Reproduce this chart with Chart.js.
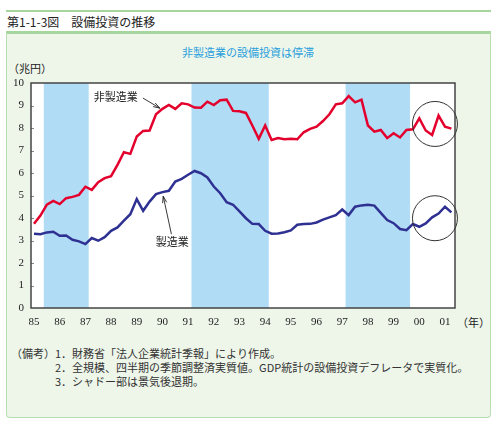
<!DOCTYPE html>
<html lang="ja">
<head>
<meta charset="utf-8">
<script src="https://cdn.jsdelivr.net/npm/chart.js@4.4.1/dist/chart.umd.min.js"></script>
<style>
  body { margin: 0; width: 496px; height: 428px; background: #fff; position: relative; overflow: hidden; font-family: "Noto Sans CJK JP", sans-serif; color: #222; }
  .topline { position: absolute; left: 6px; top: 10px; width: 485px; height: 2px; background: #a6d69e; }
  .title { position: absolute; left: 7px; top: 14px; font-size: 12px; line-height: 16px; color: #222; }
  .panel { position: absolute; left: 6px; top: 31px; width: 483px; height: 383px; background: #eef6ea; border: 1px solid #b8ddb1; border-top: 3px solid #a6d69e; border-radius: 0 0 4px 4px; }
  .subtitle { position: absolute; left: 0; width: 496px; top: 44px; text-align: center; font-size: 11px; line-height: 16px; color: #2a9fdc; }
  .unit { position: absolute; left: 8px; top: 60px; font-size: 11px; line-height: 16px; }
  .year { position: absolute; left: 457px; top: 314px; font-size: 11px; line-height: 16px; }
  .note { position: absolute; font-size: 11px; line-height: 14px; color: #333; white-space: nowrap; }
  #chart { position: absolute; left: 0; top: 0; }
</style>
</head>
<body>
<div class="topline"></div>
<div class="title">第1-1-3図　設備投資の推移</div>
<div class="panel"></div>
<div class="subtitle">非製造業の設備投資は停滞</div>
<div class="unit">（兆円）</div>
<div class="year">（年）</div>
<div class="note" style="left:11px; top:346px;">（備考）</div>
<div class="note" style="left:55px; top:346px;">1．財務省「法人企業統計季報」により作成。</div>
<div class="note" style="left:55px; top:360px;">2．全規模、四半期の季節調整済実質値。GDP統計の設備投資デフレータで実質化。</div>
<div class="note" style="left:55px; top:374px;">3．シャドー部は景気後退期。</div>
<canvas id="chart" width="496" height="428"></canvas>
<script>
// quarterly series, 1985 Q1 .. 2001 Q2 (兆円)
const startYear = 1985;
const nonManufacturing = [
    3.74, 4.11, 4.59, 4.76, 4.62, 4.88, 4.94, 5.03, 5.39, 5.25, 5.59, 5.77,
    5.86, 6.36, 6.92, 6.85, 7.62, 7.87, 7.89, 8.61, 8.85, 9.02, 8.85, 9.10,
    9.05, 8.91, 8.90, 9.17, 9.02, 9.23, 9.26, 8.76, 8.74, 8.67, 8.11, 7.52,
    8.11, 7.47, 7.55, 7.50, 7.52, 7.50, 7.81, 7.96, 8.06, 8.31, 8.61, 9.05,
    9.10, 9.42, 9.14, 9.26, 8.11, 7.84, 7.91, 7.55, 7.77, 7.58, 7.91, 7.94,
    8.43, 7.89, 7.69, 8.55, 8.06, 7.97,
];
const manufacturing = [
    3.30, 3.28, 3.36, 3.39, 3.21, 3.22, 3.03, 2.96, 2.84, 3.11, 2.99, 3.15,
    3.43, 3.58, 3.88, 4.17, 4.84, 4.32, 4.73, 5.06, 5.15, 5.21, 5.62, 5.74,
    5.92, 6.09, 5.99, 5.80, 5.40, 5.10, 4.70, 4.59, 4.29, 3.99, 3.74, 3.73,
    3.43, 3.30, 3.31, 3.37, 3.45, 3.70, 3.73, 3.74, 3.80, 3.93, 4.03, 4.13,
    4.38, 4.13, 4.50, 4.56, 4.59, 4.55, 4.23, 3.91, 3.77, 3.51, 3.46, 3.73,
    3.61, 3.76, 4.03, 4.20, 4.50, 4.25,
];
const recessions = [[1985.38, 1987.13], [1991.13, 1994.14], [1997.13, 1999.64]];
const yTicks = [0, 1, 2, 3, 4, 5, 6, 7, 8, 9, 10];

function toPoints(values) {
    return values.map((v, i) => ({ x: startYear + i / 4, y: v }));
}

function drawArrow(ctx, x0, y0, x1, y1) {
    const ang = Math.atan2(y1 - y0, x1 - x0);
    const len = 7;
    ctx.beginPath();
    ctx.moveTo(x0, y0);
    ctx.lineTo(x1, y1);
    ctx.moveTo(x1 - len * Math.cos(ang - 0.3), y1 - len * Math.sin(ang - 0.3));
    ctx.lineTo(x1, y1);
    ctx.lineTo(x1 - len * Math.cos(ang + 0.3), y1 - len * Math.sin(ang + 0.3));
    ctx.stroke();
}

const decorPlugin = {
    id: 'decor',
    beforeDatasetsDraw(chart) {
        const { ctx, chartArea: a, scales: { x } } = chart;
        ctx.save();
        ctx.fillStyle = '#fff';
        ctx.fillRect(a.left, a.top, a.width, a.height);
        ctx.fillStyle = '#b1dcf6';
        recessions.forEach(([s, e]) => {
            const x0 = x.getPixelForValue(s);
            const x1 = x.getPixelForValue(e);
            ctx.fillRect(x0, a.top, x1 - x0, a.height);
        });
        ctx.restore();
    },
    afterDatasetsDraw(chart) {
        const { ctx, chartArea: a, scales: { x, y } } = chart;
        ctx.save();
        // inward tick marks on the y axis
        ctx.strokeStyle = '#888';
        ctx.lineWidth = 1;
        yTicks.slice(1, -1).forEach((t) => {
            const py = Math.round(y.getPixelForValue(t)) + 0.5;
            ctx.beginPath();
            ctx.moveTo(a.left, py);
            ctx.lineTo(a.left + 3, py);
            ctx.stroke();
        });
        // frame
        ctx.strokeStyle = '#444';
        ctx.lineWidth = 1.5;
        ctx.strokeRect(a.left, a.top, a.width, a.height);

        // series labels with arrows
        ctx.fillStyle = '#222';
        ctx.font = '11px "Noto Sans CJK JP"';
        ctx.textAlign = 'center';
        ctx.textBaseline = 'middle';
        ctx.fillText('非製造業', x.getPixelForValue(1988.18), y.getPixelForValue(9.38));
        ctx.fillText('製造業', x.getPixelForValue(1990.38), y.getPixelForValue(2.94));
        ctx.strokeStyle = '#222';
        ctx.lineWidth = 0.9;
        drawArrow(ctx, x.getPixelForValue(1989.24), y.getPixelForValue(9.33),
            x.getPixelForValue(1989.9), y.getPixelForValue(8.88));
        drawArrow(ctx, x.getPixelForValue(1990.35), y.getPixelForValue(3.28),
            x.getPixelForValue(1990.03), y.getPixelForValue(4.97));

        // circles around the latest quarters
        ctx.strokeStyle = '#333';
        ctx.lineWidth = 1;
        [8.18, 3.99].forEach((v) => {
            ctx.beginPath();
            ctx.arc(x.getPixelForValue(2000.61), y.getPixelForValue(v), 22.5, 0, Math.PI * 2);
            ctx.stroke();
        });
        ctx.restore();
    },
};

const tickFont = { family: '"Liberation Serif", "DejaVu Serif", serif', size: 11 };

new Chart(document.getElementById('chart').getContext('2d'), {
    type: 'line',
    data: {
        datasets: [
            {
                label: '非製造業',
                data: toPoints(nonManufacturing),
                borderColor: '#e4002d',
                borderWidth: 2.5,
                pointRadius: 0,
                tension: 0,
                fill: false,
            },
            {
                label: '製造業',
                data: toPoints(manufacturing),
                borderColor: '#2f3192',
                borderWidth: 2.5,
                pointRadius: 0,
                tension: 0,
                fill: false,
            },
        ],
    },
    options: {
        responsive: false,
        animation: false,
        devicePixelRatio: 1,
        layout: { padding: { left: 0, top: 83, right: 41, bottom: 93 } },
        scales: {
            x: {
                type: 'linear',
                min: 1984.883,
                max: 2001.39,
                grid: { display: false, drawTicks: false },
                border: { display: false },
                ticks: {
                    stepSize: 1,
                    includeBounds: false,
                    autoSkip: false,
                    maxRotation: 0,
                    padding: 8,
                    color: '#222',
                    font: tickFont,
                    callback: (v) => String(v % 100).padStart(2, '0'),
                },
                afterFit: (scale) => { scale.height = 27; },
            },
            y: {
                min: 0,
                max: 10,
                grid: { display: false, drawTicks: false },
                border: { display: false },
                ticks: {
                    stepSize: 1,
                    padding: 7,
                    color: '#222',
                    font: tickFont,
                },
                afterFit: (scale) => { scale.width = 31; },
            },
        },
        plugins: { legend: { display: false }, tooltip: { enabled: false } },
    },
    plugins: [decorPlugin],
});
</script>
</body>
</html>
